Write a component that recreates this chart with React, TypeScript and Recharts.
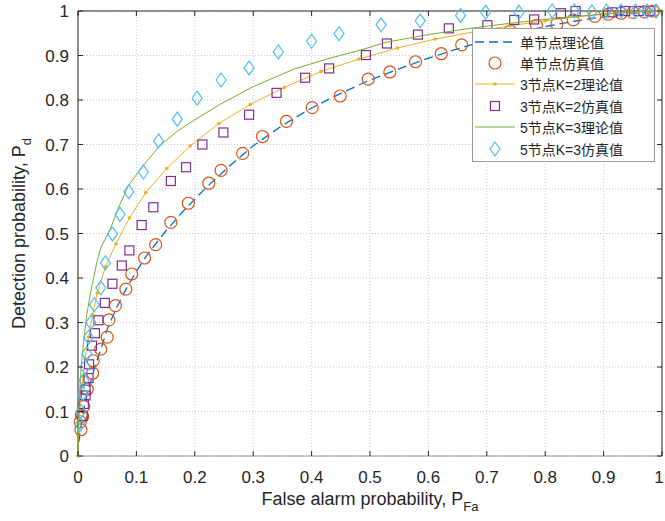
import React from "react";
import { ScatterChart, Scatter, XAxis, YAxis, CartesianGrid, ReferenceLine } from "recharts";

// axis ticks
const axisTicks = [0, 0.1, 0.2, 0.3, 0.4, 0.5, 0.6, 0.7, 0.8, 0.9, 1];
const tickLabels = ["0", "0.1", "0.2", "0.3", "0.4", "0.5", "0.6", "0.7", "0.8", "0.9", "1"];

// legend names (same order as the series)
const seriesNames = [
  "单节点理论值",
  "单节点仿真值",
  "3节点K=2理论值",
  "3节点K=2仿真值",
  "5节点K=3理论值",
  "5节点K=3仿真值",
];

// single node, theory
const singleTheoryPf = [0, 0.001, 0.003, 0.006, 0.01, 0.015, 0.02, 0.03, 0.04, 0.05, 0.065, 0.08, 0.1, 0.12, 0.15, 0.18, 0.22, 0.26, 0.3, 0.35, 0.4, 0.45, 0.5, 0.55, 0.6, 0.65, 0.7, 0.75, 0.8, 0.85, 0.9, 0.95, 1];
const singleTheoryPd = [0, 0.025, 0.048, 0.075, 0.105, 0.135, 0.16, 0.205, 0.243, 0.285, 0.33, 0.37, 0.415, 0.455, 0.505, 0.55, 0.604, 0.652, 0.697, 0.743, 0.782, 0.815, 0.845, 0.87, 0.894, 0.915, 0.934, 0.951, 0.965, 0.977, 0.987, 0.995, 1];

// single node, simulation
const singleSimPf = [0.004, 0.005, 0.006, 0.008, 0.01, 0.016, 0.025, 0.026, 0.039, 0.05, 0.053, 0.064, 0.082, 0.092, 0.114, 0.133, 0.159, 0.189, 0.224, 0.245, 0.282, 0.316, 0.357, 0.401, 0.449, 0.497, 0.534, 0.578, 0.622, 0.657, 0.7, 0.74, 0.785, 0.82, 0.848, 0.885, 0.908, 0.93, 0.95, 0.97, 0.985];
const singleSimPd = [0.077, 0.059, 0.092, 0.089, 0.111, 0.15, 0.186, 0.214, 0.24, 0.267, 0.306, 0.338, 0.375, 0.409, 0.445, 0.475, 0.525, 0.568, 0.613, 0.642, 0.68, 0.718, 0.752, 0.783, 0.809, 0.847, 0.863, 0.886, 0.904, 0.924, 0.94, 0.955, 0.968, 0.971, 0.98, 0.988, 0.993, 0.995, 0.997, 0.998, 1];

// 3 nodes K=2, theory
const k2TheoryPf = [0, 0.001, 0.003, 0.006, 0.009, 0.012, 0.018, 0.025, 0.033, 0.047, 0.065, 0.088, 0.116, 0.152, 0.192, 0.241, 0.295, 0.353, 0.416, 0.481, 0.547, 0.612, 0.677, 0.74, 0.8, 0.855, 0.905, 0.945, 0.975, 0.993, 1];
const k2TheoryPd = [0, 0.06, 0.1, 0.145, 0.18, 0.22, 0.267, 0.318, 0.366, 0.425, 0.477, 0.535, 0.592, 0.646, 0.697, 0.747, 0.79, 0.828, 0.864, 0.892, 0.917, 0.937, 0.953, 0.967, 0.978, 0.987, 0.993, 0.997, 0.999, 1, 1];

// 3 nodes K=2, simulation
const k2SimPf = [0.008, 0.01, 0.013, 0.013, 0.018, 0.019, 0.024, 0.029, 0.035, 0.046, 0.059, 0.075, 0.088, 0.109, 0.129, 0.159, 0.185, 0.213, 0.249, 0.293, 0.34, 0.389, 0.43, 0.493, 0.529, 0.582, 0.635, 0.701, 0.747, 0.781, 0.827, 0.852, 0.915, 0.937, 0.96, 0.98];
const k2SimPd = [0.09, 0.117, 0.136, 0.149, 0.175, 0.206, 0.248, 0.276, 0.305, 0.344, 0.387, 0.428, 0.462, 0.519, 0.559, 0.618, 0.649, 0.7, 0.727, 0.767, 0.816, 0.85, 0.871, 0.901, 0.927, 0.947, 0.961, 0.968, 0.98, 0.981, 0.995, 1, 0.997, 1, 1, 1];

// 5 nodes K=3, theory
const k3TheoryPf = [0, 0.001, 0.003, 0.006, 0.01, 0.015, 0.022, 0.032, 0.039, 0.055, 0.07, 0.086, 0.11, 0.14, 0.17, 0.197, 0.243, 0.3, 0.369, 0.426, 0.483, 0.529, 0.6, 0.671, 0.75, 0.82, 0.88, 0.93, 0.97, 1];
const k3TheoryPd = [0, 0.08, 0.15, 0.21, 0.26, 0.318, 0.37, 0.434, 0.468, 0.509, 0.56, 0.607, 0.65, 0.697, 0.73, 0.753, 0.79, 0.83, 0.869, 0.892, 0.912, 0.93, 0.947, 0.961, 0.974, 0.984, 0.991, 0.996, 0.999, 1];

// 5 nodes K=3, simulation
const k3SimPf = [0.003, 0.005, 0.008, 0.01, 0.012, 0.015, 0.018, 0.022, 0.028, 0.039, 0.047, 0.059, 0.072, 0.087, 0.112, 0.138, 0.17, 0.204, 0.245, 0.293, 0.343, 0.4, 0.447, 0.519, 0.586, 0.655, 0.698, 0.755, 0.812, 0.85, 0.88, 0.905, 0.93, 0.955, 0.975, 0.99];
const k3SimPd = [0.07, 0.1, 0.14, 0.17, 0.2, 0.23, 0.267, 0.3, 0.34, 0.378, 0.434, 0.499, 0.543, 0.594, 0.638, 0.708, 0.757, 0.804, 0.845, 0.872, 0.908, 0.932, 0.949, 0.969, 0.978, 0.99, 0.997, 0.997, 1, 1, 0.998, 1, 1, 1, 1, 1];

const toPoints = (xs: number[], ys: number[]) => xs.map((x, i) => ({ x, y: ys[i] }));

const COLORS = ["#0072BD", "#D95319", "#EDB120", "#7E2F8E", "#77AC30", "#4DBEEE"];
const FONT = '"Liberation Sans", Arial, "Noto Sans CJK SC", sans-serif';
const TEXT = "#262626";

const W = 665;
const H = 521;
const LEFT = 78;
const TOP = 11;
const RIGHT = 662;
const BOTTOM = 456;

const NoMark = () => <g />;
const Dot = ({ cx, cy }: any) => <circle cx={cx} cy={cy} r={1.8} fill={COLORS[2]} />;
const Ring = ({ cx, cy }: any) => <circle cx={cx} cy={cy} r={6} fill="none" stroke={COLORS[1]} strokeWidth={1.2} />;
const Box = ({ cx, cy }: any) => <rect x={cx - 4.5} y={cy - 4.5} width={9} height={9} fill="none" stroke={COLORS[3]} strokeWidth={1.2} />;
const Diamond = ({ cx, cy }: any) => (
  <path d={`M${cx},${cy - 7}L${cx + 5},${cy}L${cx},${cy + 7}L${cx - 5},${cy}Z`} fill="none" stroke={COLORS[5]} strokeWidth={1.2} />
);

const XTick = ({ x, payload }: any) => {
  const i = axisTicks.indexOf(payload.value);
  // the last label sits on the page edge, keep it inside
  const tx = i === axisTicks.length - 1 ? Math.min(x, W - 6) : x;
  return (
    <g>
      <line x1={x} y1={BOTTOM} x2={x} y2={BOTTOM - 5} stroke={TEXT} />
      <line x1={x} y1={TOP} x2={x} y2={TOP + 5} stroke={TEXT} />
      <text x={tx} y={BOTTOM + 27} textAnchor="middle" fontSize={17} fill={TEXT} fontFamily={FONT}>
        {tickLabels[i]}
      </text>
    </g>
  );
};

const YTick = ({ y, payload }: any) => {
  const i = axisTicks.indexOf(payload.value);
  return (
    <g>
      <line x1={LEFT} y1={y} x2={LEFT + 5} y2={y} stroke={TEXT} />
      <line x1={RIGHT} y1={y} x2={RIGHT - 5} y2={y} stroke={TEXT} />
      <text x={LEFT - 9} y={y + 6} textAnchor="end" fontSize={17} fill={TEXT} fontFamily={FONT}>
        {tickLabels[i]}
      </text>
    </g>
  );
};

function LegendIcon({ index }: { index: number }) {
  const c = COLORS[index];
  return (
    <svg width={44} height={20} style={{ display: "block" }}>
      {index === 0 && <line x1={2} y1={10} x2={42} y2={10} stroke={c} strokeWidth={1.5} strokeDasharray="9 5" />}
      {index === 1 && <circle cx={22} cy={10} r={6} fill="none" stroke={c} strokeWidth={1.2} />}
      {index === 2 && (
        <g>
          <line x1={2} y1={10} x2={42} y2={10} stroke={c} strokeWidth={1} />
          <circle cx={22} cy={10} r={1.8} fill={c} />
        </g>
      )}
      {index === 3 && <rect x={17.5} y={5.5} width={9} height={9} fill="none" stroke={c} strokeWidth={1.2} />}
      {index === 4 && <line x1={2} y1={10} x2={42} y2={10} stroke={c} strokeWidth={1} />}
      {index === 5 && <path d="M22,3L27,10L22,17L17,10Z" fill="none" stroke={c} strokeWidth={1.2} />}
    </svg>
  );
}

export default function App() {
  return (
    <div style={{ position: "absolute", left: 0, top: 0, width: W, height: H, background: "#fff", fontFamily: FONT }}>
      <ScatterChart width={W} height={H} margin={{ top: TOP, right: W - RIGHT, bottom: 0, left: 0 }}>
        <CartesianGrid stroke="#c8c8c8" strokeDasharray="1 2" />
        <XAxis
          type="number"
          dataKey="x"
          domain={[0, 1]}
          ticks={axisTicks}
          interval={0}
          height={H - BOTTOM}
          tickSize={0}
          tickMargin={0}
          tickLine={false}
          axisLine={{ stroke: "#9a9a9a" }}
          tick={<XTick />}
          label={{
            content: () => (
              <text x={(LEFT + RIGHT) / 2} y={505} textAnchor="middle" fontSize={18} fill={TEXT} fontFamily={FONT}>
                False alarm probability, P
                <tspan fontSize={13} dy={6}>Fa</tspan>
              </text>
            ),
          }}
        />
        <YAxis
          type="number"
          dataKey="y"
          domain={[0, 1]}
          ticks={axisTicks}
          interval={0}
          width={LEFT}
          tickSize={0}
          tickMargin={0}
          tickLine={false}
          axisLine={{ stroke: TEXT }}
          tick={<YTick />}
          label={{
            content: () => (
              <text
                x={0}
                y={0}
                transform={`translate(25, ${(TOP + BOTTOM) / 2}) rotate(-90)`}
                textAnchor="middle"
                fontSize={18}
                fill={TEXT}
                fontFamily={FONT}
              >
                Detection probability, P
                <tspan fontSize={13} dy={6}>d</tspan>
              </text>
            ),
          }}
        />
        <ReferenceLine y={1} stroke={TEXT} />
        <ReferenceLine x={1} stroke={TEXT} />

        <Scatter
          name={seriesNames[0]}
          data={toPoints(singleTheoryPf, singleTheoryPd)}
          line={{ stroke: COLORS[0], strokeWidth: 1.3, strokeDasharray: "9 5" }}
          shape={<NoMark />}
          isAnimationActive={false}
        />
        <Scatter name={seriesNames[1]} data={toPoints(singleSimPf, singleSimPd)} shape={<Ring />} isAnimationActive={false} />
        <Scatter
          name={seriesNames[2]}
          data={toPoints(k2TheoryPf, k2TheoryPd)}
          line={{ stroke: COLORS[2], strokeWidth: 1 }}
          shape={<Dot />}
          isAnimationActive={false}
        />
        <Scatter name={seriesNames[3]} data={toPoints(k2SimPf, k2SimPd)} shape={<Box />} isAnimationActive={false} />
        <Scatter
          name={seriesNames[4]}
          data={toPoints(k3TheoryPf, k3TheoryPd)}
          line={{ stroke: COLORS[4], strokeWidth: 1 }}
          shape={<NoMark />}
          isAnimationActive={false}
        />
        <Scatter name={seriesNames[5]} data={toPoints(k3SimPf, k3SimPd)} shape={<Diamond />} isAnimationActive={false} />
      </ScatterChart>

      {/* legend box, upper right inside the axes */}
      <div
        style={{
          position: "absolute",
          left: 472,
          top: 28,
          width: 183,
          height: 134,
          boxSizing: "border-box",
          border: "1px solid #9a9a9a",
          background: "#fff",
          paddingTop: 2,
        }}
      >
        {seriesNames.map((name, i) => (
          <div key={name} style={{ display: "flex", alignItems: "center", height: 21.4 }}>
            <LegendIcon index={i} />
            <span style={{ fontSize: 14, color: TEXT, marginLeft: 3, whiteSpace: "nowrap" }}>{name}</span>
          </div>
        ))}
      </div>
    </div>
  );
}
